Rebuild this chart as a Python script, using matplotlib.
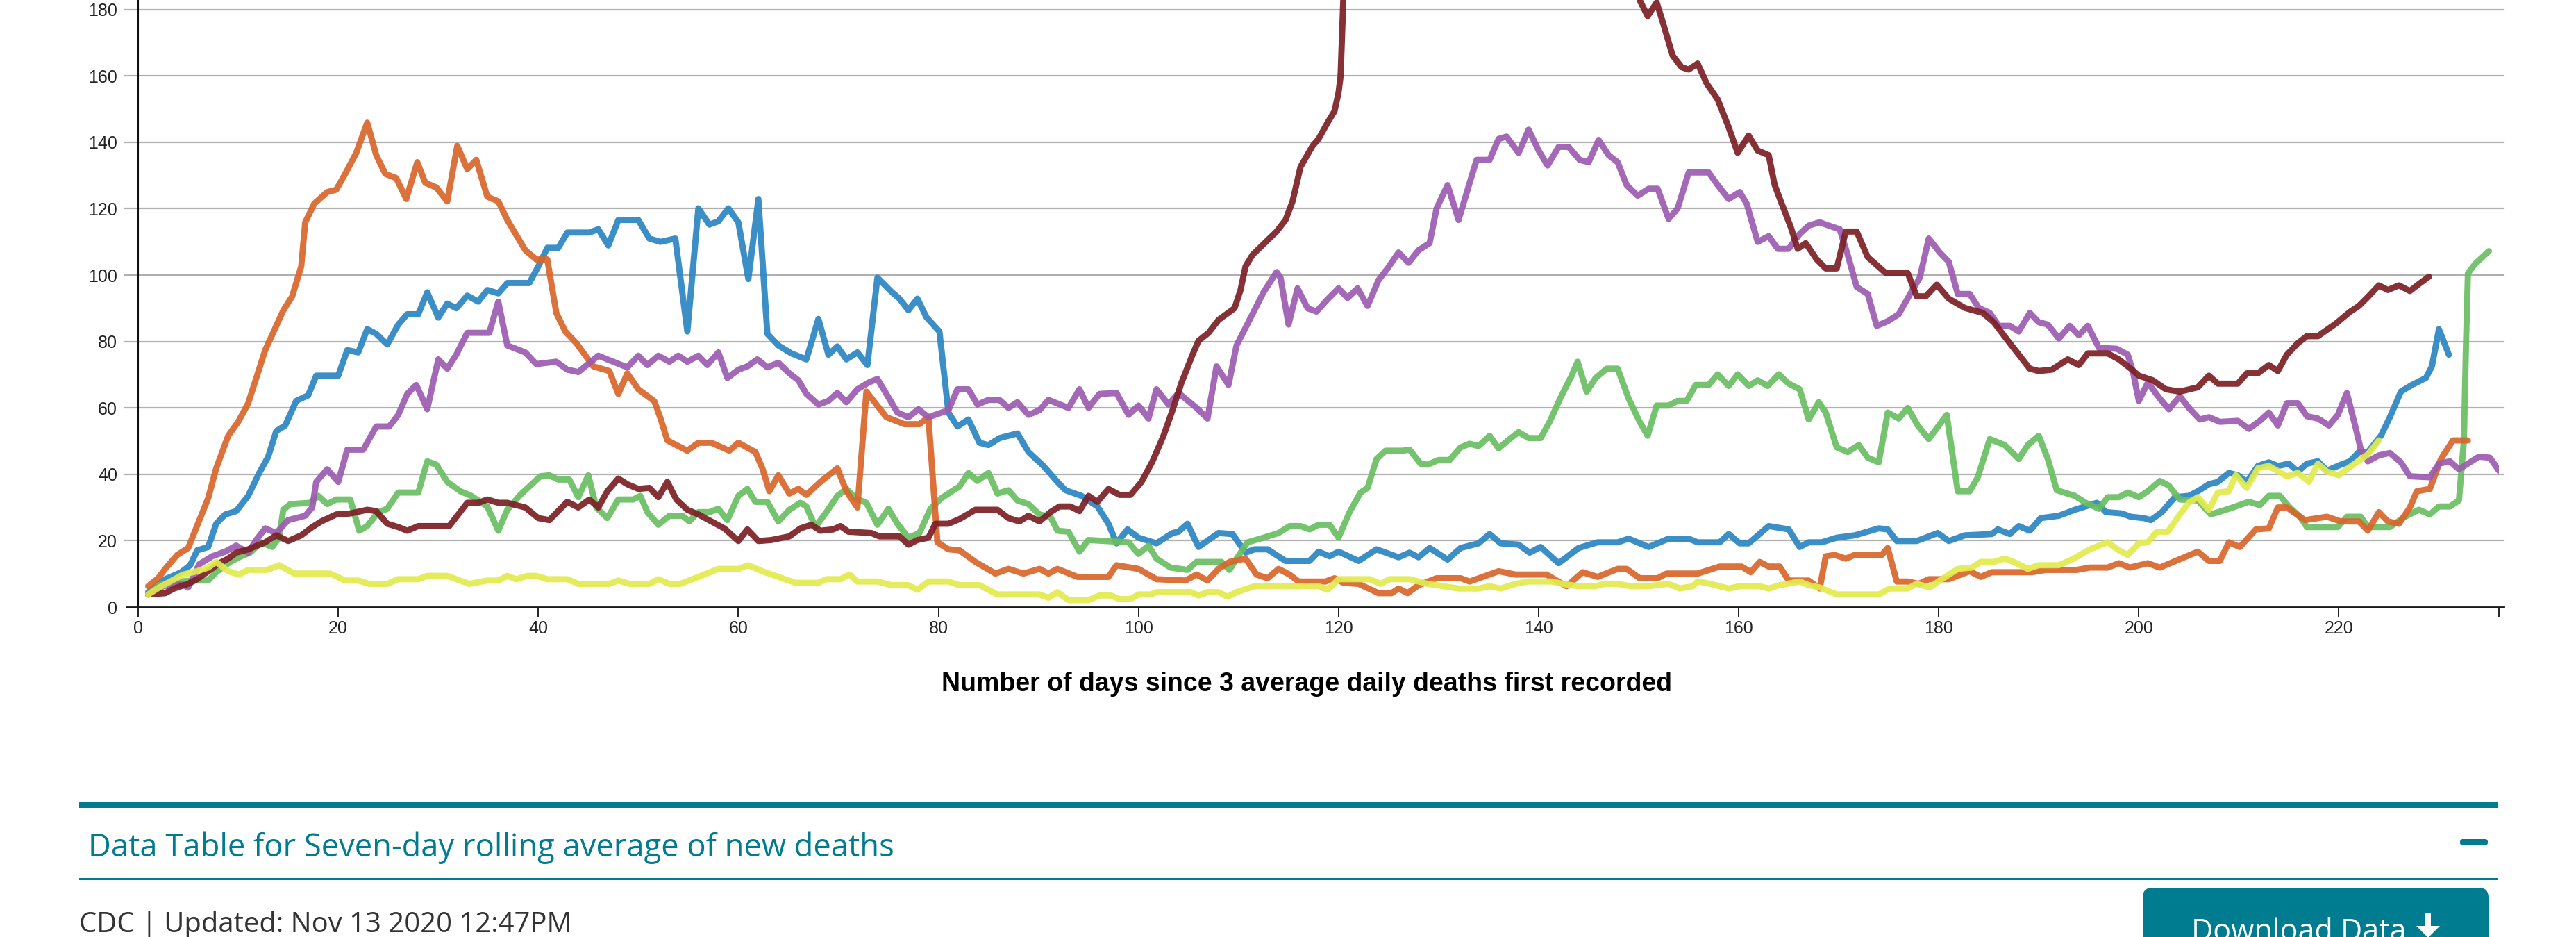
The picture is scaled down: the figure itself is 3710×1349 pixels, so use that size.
import matplotlib.pyplot as plt
from matplotlib.patches import FancyBboxPatch, Rectangle, Polygon
from matplotlib.transforms import IdentityTransform

plt.rcParams['font.family'] = ['Liberation Sans', 'DejaVu Sans']

# (day, seven-day average deaths)
blue = [(1, 4.5), (2.7, 8.4), (4.3, 10.5), (5.2, 12.6), (5.9, 17.1), (7, 18.1), (7.8, 25.1), (8.7, 27.9),
        (9.8, 28.9), (11, 33.5), (12.1, 40.4), (13, 45.3), (13.8, 53), (14.7, 54.7), (15.8, 62.1), (17, 63.8),
        (17.8, 69.7), (20, 69.7), (20.9, 77.4), (22, 76.7), (22.9, 83.7), (23.8, 82.3), (24.9, 79.1), (26, 85.1),
        (26.9, 88.2), (28, 88.2), (28.9, 94.8), (30, 87.2), (30.9, 91.4), (31.8, 90), (32.9, 93.8), (34, 92),
        (34.9, 95.5), (36, 94.5), (36.9, 97.6), (39.1, 97.6), (40, 102.6), (40.9, 108.2), (42, 108.2),
        (42.9, 112.8), (45.1, 112.8), (46, 113.8), (47, 108.9), (48, 116.6), (50, 116.6), (51.1, 111), (52.2, 110),
        (53.7, 111), (54.9, 83), (56, 120.1), (57.1, 115.2), (58, 116.2), (59, 120.1), (60, 115.9), (61, 98.8),
        (62, 122.9), (62.9, 82.3), (64, 78.8), (65.3, 76.4), (66.8, 74.6), (68, 86.8), (69, 76), (69.9, 78.5),
        (70.8, 74.6), (71.9, 76.7), (72.9, 72.9), (73.9, 99.2), (75.3, 95), (76.1, 92.9), (77, 89.4), (77.9, 92.9),
        (78.8, 87.3), (80.1, 83), (81, 58.6), (81.9, 54.4), (83, 56.5), (84.1, 49.5), (85, 48.8), (86.1, 50.9),
        (87.9, 52.3), (89, 46.7), (90.5, 42.5), (91.9, 37.7), (92.7, 35.2), (94.3, 33.5), (95.9, 30.3), (97, 25.1),
        (97.8, 19.2), (98.9, 23.4), (100, 20.9), (101.8, 19.2), (103.4, 22.3), (104, 22.7), (104.9, 25.1),
        (106, 18.1), (108, 22.3), (109.4, 22), (110.7, 16.4), (111.6, 17.4), (112.9, 17.4), (114.7, 13.9),
        (117.1, 13.9), (118, 16.7), (119.1, 15.3), (120, 16.7), (122, 13.9), (123.8, 17.4), (126, 15),
        (127.1, 16.4), (128, 15), (129.1, 17.8), (130.9, 14.3), (132.2, 17.8), (134, 19.2), (135.1, 22),
        (136.2, 19.2), (138, 18.8), (139.1, 16.4), (140.2, 18.1), (142, 13.2), (144, 17.8), (145.9, 19.5),
        (147.9, 19.5), (149, 20.6), (151, 18.1), (153, 20.6), (155, 20.6), (155.9, 19.5), (158.1, 19.5), (159, 22),
        (160.1, 19.2), (161, 19.2), (163, 24.4), (165, 23.4), (166.1, 18.1), (167, 19.5), (168.3, 19.5),
        (169.8, 20.9), (171.6, 21.6), (174, 23.7), (174.9, 23.4), (175.8, 19.9), (177.8, 19.9), (179.9, 22.3),
        (181, 19.9), (182.6, 21.6), (185.3, 22), (185.9, 23.4), (187.1, 22), (188, 24.4), (189.1, 23),
        (190.2, 26.8), (192, 27.5), (193.6, 29.3), (195.8, 31.4), (196.7, 28.6), (198.3, 28.2), (199.2, 27.2),
        (200.5, 26.8), (201.2, 26.2), (202.3, 28.6), (203.6, 33.1), (205, 33.5), (205.9, 34.9), (207, 37),
        (207.9, 37.7), (209, 40.4), (209.9, 39.7), (210.8, 37.7), (211.9, 42.5), (213, 43.6), (213.9, 42.5),
        (215, 43.2), (215.9, 40.8), (216.8, 43.2), (217.9, 43.9), (218.8, 41.1), (220.2, 42.9), (221.1, 43.9),
        (222, 46.7), (222.9, 46.7), (224.2, 51.6), (225.1, 57.2), (226.2, 64.9), (227.3, 66.9), (228.7, 69),
        (229.3, 72.5), (230, 83.7), (231, 76)]

orange = [(1, 6.3), (2, 8.7), (2.7, 11.5), (3.9, 15.7), (5, 17.8), (5.6, 22.3), (7, 32.8), (7.8, 41.8), (9, 51.6),
          (10, 55.8), (11, 61.4), (12.7, 77.4), (14.5, 89.3), (15.4, 93.6), (16.3, 102.6), (16.7, 115.9),
          (17.6, 121.5), (18.9, 125), (19.8, 125.7), (20.7, 130.5), (21.8, 136.8), (22.9, 145.9), (23.8, 136.1),
          (24.7, 130.5), (25.8, 129.2), (26.8, 122.9), (27.9, 134), (28.7, 127.8), (29.8, 126.4), (30.9, 122.2),
          (31.9, 138.9), (32.9, 131.9), (33.8, 134.7), (34.9, 123.6), (36, 122.2), (36.9, 116.6), (38.7, 107.5),
          (39.8, 104.7), (40.9, 104.7), (41.8, 88.6), (42.7, 83), (43.8, 79.5), (45.5, 72.5), (47.1, 71.1),
          (48, 64.2), (48.9, 70.4), (50, 65.6), (51.6, 62), (52.2, 57), (52.9, 50.2), (54.9, 47.1), (56, 49.5),
          (57.3, 49.5), (59.1, 47.1), (60, 49.5), (61.7, 46.7), (62.4, 41.8), (63.1, 34.9), (64, 39.7),
          (65.1, 34.2), (66, 35.6), (66.8, 33.8), (68.2, 37.7), (69.9, 41.8), (70.8, 34.9), (71.9, 30),
          (72.8, 64.9), (73.7, 61.4), (74.8, 57.2), (76.6, 55.1), (78.1, 55.1), (79, 57.2), (79.5, 36.3),
          (79.9, 19.5), (81, 17.4), (82.1, 17.1), (83.7, 13.6), (85.7, 10.1), (87, 11.5), (88.5, 10.1),
          (90.1, 11.5), (91, 10.1), (91.9, 11.5), (93.9, 9.1), (97, 9.1), (97.8, 12.6), (100, 11.5), (101.8, 8.4),
          (104.7, 8), (105.8, 9.8), (106.9, 8), (108, 11.5), (109.1, 13.6), (110.7, 14.6), (111.8, 9.8),
          (112.9, 8.7), (114, 11.5), (115.1, 9.8), (116, 7.7), (118.7, 7.7), (119.6, 8.7), (120.5, 7.3), (122, 7),
          (124, 4.2), (125.3, 4.2), (126, 5.6), (126.9, 4.2), (128, 6.6), (129.8, 8.7), (132.2, 8.7), (133.1, 7.7),
          (136, 10.8), (137.7, 9.8), (140.8, 9.8), (142.2, 7.3), (142.8, 6.3), (144.4, 10.5), (145.9, 9.1),
          (147.9, 11.5), (148.8, 11.5), (150.1, 8.7), (151.9, 8.7), (152.8, 10.1), (155.9, 10.1), (158.1, 12.2),
          (160.3, 12.2), (161.2, 10.5), (162.1, 13.6), (163, 12.2), (164.1, 12.2), (165, 8), (167, 8), (168.1, 5.6),
          (168.7, 15.3), (169.6, 15.7), (170.7, 14.6), (171.6, 15.7), (174.3, 15.7), (174.9, 17.8), (175.8, 7.7),
          (176.9, 7.7), (178, 7), (179, 8.4), (181, 8.4), (183.1, 10.8), (184.2, 9.1), (185.3, 10.5),
          (189.3, 10.5), (190.7, 11.2), (193.8, 11.2), (195.1, 11.9), (196.9, 11.9), (198, 13.2), (199.1, 11.9),
          (200.9, 13.2), (202.1, 11.9), (205.9, 16.7), (207, 13.9), (208.1, 13.9), (209, 19.5), (210.1, 18.1),
          (211.7, 23.4), (213, 23.7), (213.9, 30), (214.8, 30), (216.6, 26.2), (218.8, 27.2), (220.2, 25.8),
          (222, 25.8), (222.9, 23), (224, 28.6), (224.9, 25.8), (226, 25.1), (227.1, 30), (227.8, 34.9),
          (229.1, 35.6), (230.2, 44.6), (231.4, 50.2), (232.9, 50.2)]

green = [(1, 3.8), (2.1, 6.6), (3.9, 7.7), (5.6, 8), (7, 8), (7.8, 10.5), (9.2, 13.6), (10.3, 15.3), (11.2, 16.4),
         (12.3, 19.5), (13.4, 18.1), (14.1, 20.9), (14.5, 29.3), (15.2, 31), (17.2, 31.4), (18, 33.5), (18.9, 31),
         (19.8, 32.4), (21.2, 32.4), (22.1, 23), (22.9, 24.4), (24, 28.6), (24.9, 29.6), (26, 34.5), (28, 34.5),
         (28.9, 43.9), (29.8, 42.9), (30.9, 37.7), (32.2, 34.9), (33.3, 33.5), (34.9, 30.3), (36, 23), (36.9, 29.3),
         (38.2, 33.8), (39.1, 36.3), (40.2, 39.4), (41.1, 39.7), (42, 38.4), (43.1, 38.4), (44, 33.1), (45, 39.7),
         (45.8, 30), (46.9, 26.8), (48, 32.4), (49.5, 32.4), (50.2, 33.5), (50.9, 28.6), (52, 24.8), (53.1, 27.5),
         (54.4, 27.5), (55.1, 25.8), (56, 28.6), (57.1, 28.6), (58, 29.6), (58.9, 26.2), (60, 33.5), (60.9, 35.6),
         (61.7, 31.7), (62.9, 31.7), (64, 25.8), (65.1, 29.3), (66.2, 31.4), (66.8, 30.3), (67.7, 24.1),
         (68.8, 28.6), (69.9, 33.5), (70.8, 35.6), (71.7, 32.8), (72.8, 31.4), (73.9, 24.8), (75, 29.6),
         (75.9, 25.1), (77, 20.9), (78.1, 22.3), (79.2, 29.6), (80.3, 32.8), (81.5, 35.2), (82.1, 36.3), (83, 40.4),
         (83.9, 38), (85, 40.4), (85.9, 34.2), (87, 35.2), (87.9, 32.1), (89, 31), (90.1, 27.9), (91.2, 27.2),
         (91.9, 23), (93, 22.7), (94.1, 16.7), (95, 20.2), (99, 19.5), (100, 16), (101, 18.5), (101.8, 14.6),
         (103.2, 11.9), (104.9, 11.2), (105.8, 13.6), (108.3, 13.6), (109.1, 11.2), (109.8, 14.6), (110.9, 19.5),
         (112.5, 20.9), (114, 22.3), (115.1, 24.4), (116.2, 24.4), (117.1, 23.4), (118, 24.8), (119.1, 24.8),
         (120, 20.9), (121.1, 28.6), (122.2, 34.5), (122.9, 35.9), (123.8, 44.6), (124.7, 47.1), (126.4, 47.1),
         (127.1, 47.4), (128.2, 43.2), (128.9, 42.9), (130, 44.3), (131.1, 44.3), (132.2, 48.1), (133.1, 49.2),
         (134, 48.5), (135.1, 51.6), (136, 47.8), (137.1, 50.6), (138, 52.7), (139, 50.9), (140.2, 50.9),
         (141.1, 55.8), (142.2, 63.1), (143.3, 69.7), (143.9, 73.9), (144.8, 64.9), (145.7, 69), (146.8, 71.8),
         (147.9, 71.8), (149, 62.8), (150.1, 55.8), (150.9, 51.6), (151.8, 60.7), (153, 60.7), (153.9, 62.1),
         (154.8, 62.1), (155.7, 66.9), (157, 66.9), (157.9, 70.1), (159, 66.6), (159.9, 70.1), (161, 66.6),
         (161.9, 68.3), (162.9, 66.6), (164, 70.1), (165, 67.3), (166.1, 65.6), (167, 56.5), (168, 61.7),
         (168.7, 58.6), (169.8, 48.1), (170.9, 46.7), (172, 48.8), (172.9, 45), (174, 43.6), (174.9, 58.6),
         (176, 56.8), (176.9, 60), (177.9, 54.7), (179, 50.6), (180.8, 57.9), (181.9, 34.9), (183.1, 34.9),
         (183.9, 39.1), (185.1, 50.6), (186.6, 48.8), (188, 44.6), (188.9, 48.8), (190, 51.6), (190.9, 44.6),
         (191.8, 35.2), (193.6, 33.5), (194.7, 31.4), (196, 29.6), (196.9, 33.1), (198, 33.1), (198.9, 34.5),
         (200, 33.1), (200.9, 34.9), (202.1, 38), (203, 36.6), (204.1, 32.4), (205.9, 32.1), (207.2, 27.9),
         (209, 29.6), (211, 31.7), (212.1, 30.7), (213, 33.5), (214.1, 33.5), (215, 30.3), (216.1, 27.2),
         (216.8, 24.1), (219.9, 24.1), (220.8, 27.2), (222.2, 27.2), (222.9, 24.1), (225.1, 24.1), (226.6, 27.2),
         (228, 29.3), (229.1, 27.9), (230, 30.3), (231.1, 30.3), (232, 32.1), (232.5, 50.2), (232.7, 78.1),
         (232.9, 100.5), (233.6, 103.3), (235, 107.2)]

purple = [(1, 3.8), (2.5, 6.3), (4.3, 7), (5, 5.9), (6.1, 12.9), (7.4, 15.3), (8.7, 16.7), (9.8, 18.5), (11, 16.4),
          (11.8, 20.2), (12.7, 23.7), (13.8, 22.3), (15, 26.2), (16.7, 27.5), (17.4, 30), (17.8, 37.7),
          (18.9, 41.5), (20, 37.7), (20.9, 47.4), (22.5, 47.4), (23.8, 54.4), (25.1, 54.4), (26, 57.9),
          (26.9, 64.2), (27.8, 66.9), (28.9, 59.6), (30, 74.6), (30.9, 71.8), (31.8, 76), (32.9, 82.6),
          (35.1, 82.6), (36, 92), (36.9, 78.8), (38.7, 76.7), (39.8, 73.2), (41.8, 73.9), (42.9, 71.5), (44, 70.8),
          (46, 75.7), (48.9, 72.2), (50, 75.7), (50.9, 72.9), (52, 75.7), (53.1, 73.9), (54, 75.7), (54.9, 73.9),
          (56, 75.7), (56.9, 72.9), (58, 76.7), (58.9, 69), (60, 71.5), (60.9, 72.5), (61.9, 74.6), (62.9, 72.2),
          (64, 73.6), (65.1, 70.4), (66, 68.3), (66.8, 64.2), (68, 61), (69, 62.1), (69.9, 64.5), (70.8, 61.7),
          (71.9, 65.6), (73, 67.6), (73.9, 68.7), (74.8, 64.2), (75.9, 58.6), (77, 57.2), (78, 59.6), (79, 57.2),
          (81, 59.3), (81.9, 65.6), (83, 65.6), (83.9, 61), (85, 62.4), (86.1, 62.4), (87, 60), (87.9, 61.7),
          (89, 57.9), (90.1, 59.3), (91, 62.4), (93, 60), (94.1, 65.6), (95, 60), (96.1, 64.2), (97.8, 64.5),
          (99, 57.9), (100, 60.7), (101, 56.8), (101.8, 65.6), (103, 61), (104, 64.5), (105.8, 60), (106.9, 56.8),
          (107.8, 72.5), (109, 66.9), (109.8, 78.8), (111.1, 86.5), (112.5, 94.8), (113.8, 100.9), (114.2, 99.2),
          (115, 85.1), (115.9, 96), (116.9, 90), (117.8, 89), (118.9, 92.7), (120, 96), (120.9, 93.1), (121.9, 96),
          (122.9, 90.7), (124, 98.5), (124.9, 102), (126, 106.8), (127, 103.7), (128, 107.5), (129.1, 109.6),
          (129.8, 120.1), (130.9, 127.1), (132, 116.6), (132.9, 125.7), (133.8, 134.7), (135.1, 134.7), (136, 141),
          (136.8, 141.7), (138, 136.8), (139, 143.8), (140, 137.5), (140.9, 133), (142, 138.6), (143, 138.6),
          (144.1, 134.7), (145, 134), (146, 140.7), (147, 136.1), (147.9, 134), (148.8, 127.1), (149.9, 123.9),
          (151, 126), (151.9, 126), (153, 116.9), (153.9, 120.1), (155, 130.9), (157, 130.9), (157.9, 127.1),
          (159, 122.9), (160.1, 125), (160.8, 121.5), (161.9, 110), (163, 111.7), (163.9, 107.9), (165, 107.9),
          (166.1, 112.4), (167, 114.9), (168.1, 115.9), (169, 114.9), (170.1, 113.8), (170.9, 106.1), (171.8, 96.4),
          (172.9, 94.3), (173.8, 84.7), (174.9, 86.1), (176, 88.2), (177.1, 94.1), (178.1, 99.2), (179, 111),
          (180.1, 106.8), (181, 104), (181.9, 94.3), (183.1, 94.3), (184, 90.1), (185.1, 88.6), (186, 84.7),
          (187.1, 84.7), (188, 83), (189.1, 88.6), (190, 85.8), (190.9, 85.1), (192, 80.9), (193.1, 84.7),
          (194, 81.9), (194.9, 84.7), (196, 78.1), (197.8, 77.8), (198.9, 76), (199.4, 71.1), (200, 62.1),
          (200.9, 67.6), (202.1, 62.8), (203, 59.6), (204.1, 63.5), (205, 60), (206.1, 56.5), (207, 57.2),
          (208.1, 55.8), (209.9, 56.1), (211, 53.7), (212.1, 56.1), (213, 58.6), (213.9, 54.7), (214.8, 61.4),
          (215.9, 61.4), (216.8, 57.5), (217.9, 56.8), (219, 54.7), (219.9, 57.9), (220.8, 64.5), (221.7, 53.7),
          (222.2, 47.4), (222.9, 43.9), (224, 45.7), (225.1, 46.4), (226.2, 43.6), (227.1, 39.4), (229.1, 39.1),
          (230, 43.2), (231.1, 43.9), (232, 41.5), (233.1, 43.6), (234, 45.3), (235.1, 45), (236, 41.1)]

# values between day 121 and 150 run off the top of the visible chart and are estimated
maroon = [(1, 3.8), (2.7, 4.2), (3.6, 5.6), (5, 7), (5.9, 8.4), (7, 10.8), (8.1, 13.2), (9, 14.6), (9.8, 16.4),
          (11, 17.4), (12.7, 19.5), (13.8, 21.6), (15, 19.9), (16.3, 21.6), (17.4, 24.1), (18.3, 25.8),
          (19.8, 27.9), (21.2, 28.2), (22.9, 29.3), (23.8, 28.9), (24.9, 25.1), (26, 24.1), (26.9, 23), (28, 24.4),
          (31.1, 24.4), (32, 27.9), (32.9, 31.4), (34, 31.4), (34.9, 32.4), (36, 31.4), (36.9, 31.4), (38.7, 30),
          (40, 26.8), (41.1, 26.2), (42.9, 31.7), (44, 30), (45.1, 32.4), (46, 30), (46.9, 34.9), (48, 38.7),
          (48.9, 37), (50, 35.6), (51.1, 35.9), (52, 33.1), (52.9, 37.7), (53.8, 32.4), (54.9, 29.3), (56, 27.9),
          (57.3, 25.8), (58.6, 23.7), (60, 19.9), (60.9, 23.4), (62, 19.9), (63.3, 20.2), (65.1, 21.3),
          (66.2, 23.7), (67.3, 24.8), (68.2, 23), (69.5, 23.4), (70.2, 24.4), (71, 22.7), (73.3, 22.3),
          (74.1, 21.3), (76.1, 21.3), (77, 18.8), (77.9, 20.2), (79, 20.9), (79.7, 25.1), (81, 25.1), (82.1, 26.5),
          (83.7, 29.3), (85.9, 29.3), (87, 26.8), (88.1, 25.8), (89, 27.5), (90.1, 25.8), (91.2, 28.6),
          (92.1, 30.3), (93.2, 30.3), (94.1, 28.9), (95, 33.5), (95.9, 31.7), (97, 35.6), (98.1, 33.8),
          (99.2, 33.8), (100.3, 37.7), (101.4, 43.9), (102.5, 51.6), (103.4, 59.3), (104.3, 67.6), (105.4, 76),
          (106, 80.2), (107, 82.6), (108, 86.5), (109.6, 90), (110.2, 95.5), (110.7, 102.6), (111.4, 106.1),
          (112.5, 109.3), (113.8, 113.1), (114.7, 116.6), (115.4, 122.2), (116.2, 132.6), (117.4, 138.9),
          (118, 141), (118.9, 145.9), (119.6, 149.4), (120, 155), (120.2, 159.8), (120.5, 185), (122, 205),
          (126, 230), (132, 250), (138, 255), (144, 235), (149, 200), (150.1, 182.8), (150.9, 178), (151.8, 182.1),
          (152.3, 177.3), (153.4, 166.1), (154.3, 162.6), (155, 161.9), (155.9, 163.7), (156.8, 157.7),
          (157.9, 152.9), (159, 144.5), (159.9, 136.8), (161, 142), (161.9, 137.5), (163, 136.1), (163.6, 127.1),
          (164.3, 121.5), (165.2, 114.5), (165.9, 107.9), (166.7, 109.6), (167.8, 104.7), (168.7, 102),
          (169.8, 102), (170.7, 113.1), (171.8, 113.1), (172.9, 105.4), (174.7, 100.6), (176.9, 100.6),
          (177.8, 93.6), (178.7, 93.6), (179.8, 97.1), (181, 92.9), (182.6, 90.1), (184.4, 88.6), (185.5, 85.8),
          (187.1, 79.5), (189.1, 71.8), (190, 71.1), (191.3, 71.5), (192.9, 74.6), (194, 72.9), (194.9, 76.4),
          (196.9, 76.4), (198, 74.6), (199.2, 71.8), (200, 69.7), (201.4, 68.3), (202.7, 65.6), (204.1, 64.9),
          (205.9, 66.2), (207, 69.7), (207.9, 67.3), (209.9, 67.3), (210.8, 70.4), (211.9, 70.4), (213, 72.9),
          (213.9, 71.1), (214.8, 76), (215.9, 79.5), (216.8, 81.6), (217.9, 81.6), (219.7, 85.4), (221.1, 88.9),
          (222, 90.7), (222.9, 93.4), (224, 96.9), (224.9, 95.5), (226, 96.9), (227.1, 95.2), (228, 97.3),
          (229, 99.5)]

yellow = [(1, 3.8), (2.1, 5.9), (3.2, 7.7), (4.5, 9.8), (5.9, 10.8), (7, 11.9), (7.8, 13.6), (9, 10.8), (10.1, 9.8),
          (11, 11.2), (12.9, 11.2), (14.1, 12.6), (15.6, 10.1), (19.2, 10.1), (20.7, 8), (22, 8), (23.1, 7),
          (24.9, 7), (26, 8.4), (28, 8.4), (28.9, 9.4), (30.9, 9.4), (33.1, 7), (34.9, 8), (36, 8), (36.9, 9.4),
          (37.8, 8.4), (38.9, 9.4), (39.8, 9.4), (40.9, 8.4), (42.9, 8.4), (44, 7), (47.1, 7), (48, 8), (49.1, 7),
          (51.1, 7), (52, 8.4), (53.1, 7), (54.2, 7), (56, 9.1), (58, 11.5), (60, 11.5), (61, 12.6), (62.4, 10.8),
          (65.7, 7.3), (68, 7.3), (68.8, 8.4), (70.2, 8.4), (71.1, 9.8), (71.9, 7.7), (73.9, 7.7), (75.3, 6.6),
          (77, 6.6), (77.9, 5.2), (79, 7.7), (81, 7.7), (82.1, 6.6), (84.1, 6.6), (85.9, 3.8), (90.1, 3.8),
          (91, 2.8), (91.9, 4.5), (93, 2.1), (95, 2.1), (96.1, 3.5), (97.2, 3.5), (98.1, 2.4), (99.2, 2.4),
          (100, 3.8), (101.2, 3.8), (101.8, 4.5), (105.2, 4.5), (106, 3.5), (106.9, 4.5), (108, 4.5), (108.9, 3.1),
          (109.8, 4.5), (111.6, 6.3), (118, 6.3), (118.9, 5.2), (120, 8.4), (123.1, 8.4), (124.2, 7), (125.1, 8.4),
          (127.1, 8.4), (128.9, 7), (132, 5.6), (134, 5.6), (135.1, 6.3), (136.2, 5.6), (137.7, 7), (139, 7.7),
          (141.3, 7.7), (142.4, 7), (143.9, 6.3), (145.7, 6.3), (146.6, 7), (147.9, 7), (149.2, 6.3), (151, 6.3),
          (153, 7), (154.1, 5.6), (155.4, 6.3), (155.9, 7.7), (157.2, 7), (159, 5.6), (160.1, 6.3), (162.1, 6.3),
          (163, 5.6), (164.1, 6.6), (166.1, 7.7), (167, 6.6), (168.1, 5.9), (169.8, 3.8), (174, 3.8), (175.1, 5.6),
          (176.9, 5.6), (177.8, 7), (179.1, 5.9), (180.1, 8), (181.9, 11.5), (183.3, 11.9), (184.2, 13.6),
          (185.5, 13.6), (186.6, 14.6), (187.5, 13.6), (188.9, 11.5), (190, 12.6), (192, 12.6), (193.3, 14.3),
          (195.1, 17.4), (196.9, 19.5), (198, 17.1), (198.9, 15.7), (200, 19.2), (200.9, 19.5), (201.8, 22.7),
          (202.9, 22.7), (204.1, 27.9), (205, 31.4), (205.9, 33.1), (207, 29.3), (207.9, 34.5), (209, 34.9),
          (209.7, 39.7), (210.8, 35.9), (211.9, 41.8), (213, 42.5), (214.8, 39.4), (215.9, 40.4), (217, 37.7),
          (217.9, 43.2), (218.8, 40.8), (220, 39.7), (221.1, 42.2), (222.9, 46), (224, 50.2)]

series = [
    (blue, "#2a86c1"),
    (green, "#69be62"),
    (orange, "#d8652a"),
    (purple, "#9b5cb0"),
    (maroon, "#7b1f25"),
    (yellow, "#e2eb4e"),
]

x_ticks = [0, 20, 40, 60, 80, 100, 120, 140, 160, 180, 200, 220, 236]
x_labels = ["0", "20", "40", "60", "80", "100", "120", "140", "160", "180", "200", "220", ""]
y_ticks = [0, 20, 40, 60, 80, 100, 120, 140, 160, 180]

teal = "#007c91"
W, H = 3710, 1349

fig = plt.figure(figsize=(W / 100, H / 100), dpi=100)

# axes: x 0 at px 199, 236 at px 3599; y 0 at px 874, 4.78 px per unit (top runs off the image)
y_max = 200
ax_h = 4.78 * y_max
ax = fig.add_axes([199 / W, 1 - 874 / H, 3400 / W, ax_h / H])
ax.set_xlim(0, 236)
ax.set_ylim(0, y_max)

for side in ["top", "right", "bottom"]:
    ax.spines[side].set_visible(False)
ax.spines["left"].set_linewidth(1.5)
ax.spines["left"].set_color("#111111")

# horizontal grid, reaching a little past the axis on both ends
ytr = ax.get_yaxis_transform()
for v in range(20, y_max + 1, 20):
    ax.plot([-0.0059, 1.0021], [v, v], transform=ytr, color="#b0b0b0",
            lw=1.6, clip_on=False, zorder=1)
ax.plot([-0.005, 1.0021], [0, 0], transform=ytr, color="#1a1a1a",
        lw=2.0, clip_on=False, zorder=3)

for pts, color in series:
    days = [p[0] for p in pts]
    vals = [p[1] for p in pts]
    ax.plot(days, vals, color=color, lw=6.4, alpha=0.92,
            solid_capstyle="round", solid_joinstyle="round", zorder=2)

ax.set_xticks(x_ticks)
ax.set_xticklabels(x_labels)
ax.set_yticks(y_ticks)
ax.tick_params(axis="x", length=10.8, width=1.3, color="#111111",
               pad=3, labelsize=18, labelcolor="#222222")
ax.tick_params(axis="y", length=0, pad=21.6, labelsize=18, labelcolor="#222222")

fig.text(1882 / W, 1 - 995 / H,
         "Number of days since 3 average daily deaths first recorded",
         ha="center", va="baseline", fontsize=27, fontweight="bold", color="#000000")

# data table header block
fig.add_artist(Rectangle((114 / W, 1 - 1163 / H), (3598 - 114) / W, 8 / H,
                         transform=fig.transFigure, fc=teal, ec="none"))
fig.add_artist(Rectangle((114 / W, 1 - 1267 / H), (3598 - 114) / W, 3 / H,
                         transform=fig.transFigure, fc=teal, ec="none"))
fig.text(127 / W, 1 - 1233 / H, "Data Table for Seven-day rolling average of new deaths",
         ha="left", va="baseline", fontsize=32.7, color=teal, family=["Open Sans", "DejaVu Sans"])
fig.add_artist(FancyBboxPatch((3543, H - 1217), 40, 9,
                              boxstyle="round,pad=0,rounding_size=4",
                              transform=IdentityTransform(), fc=teal, ec="none"))

fig.text(114 / W, 1 - 1342 / H, "CDC | Updated: Nov 13 2020 12:47PM",
         ha="left", va="baseline", fontsize=28.8, color="#333333", family=["Open Sans", "DejaVu Sans"])

# download button (cut off by the bottom edge)
fig.add_artist(FancyBboxPatch((3086, -30), 498, H - 1278 + 30,
                              boxstyle="round,pad=0,rounding_size=14",
                              transform=IdentityTransform(), fc=teal, ec="none"))
fig.text(3156 / W, 1 - 1354 / H, "Download Data", ha="left", va="baseline",
         fontsize=31, color="white", family=["Open Sans", "DejaVu Sans"])
arrow = [(3493, H - 1315), (3501, H - 1315), (3501, H - 1333), (3514, H - 1333),
         (3497, H - 1350), (3480, H - 1333), (3493, H - 1333)]
fig.add_artist(Polygon(arrow, closed=True, transform=IdentityTransform(), fc="white", ec="none"))

fig.savefig("out.png", dpi=100)
